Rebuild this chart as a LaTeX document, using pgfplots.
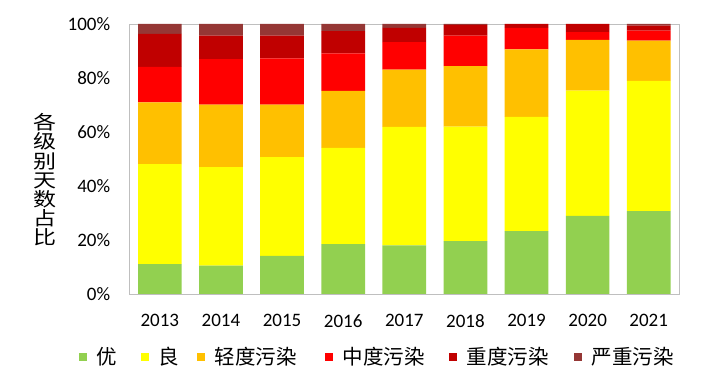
\documentclass[border=0pt]{standalone}
\usepackage{pgfplots}
\pgfplotsset{compat=1.18}
\usepackage{fontspec}
\setmainfont{Carlito}
\newfontfamily\cjk{Noto Sans CJK SC}
\definecolor{cgreen}{HTML}{92D050}
\definecolor{cyellow}{HTML}{FFFF00}
\definecolor{corange}{HTML}{FFC000}
\definecolor{cred}{HTML}{FF0000}
\definecolor{cdred}{HTML}{C00000}
\definecolor{cmaroon}{HTML}{953735}
\begin{document}
\begin{tikzpicture}
\useasboundingbox (0,0) rectangle (702pt,380pt);
\node[font=\cjk\fontsize{23}{23}\selectfont, yscale=0.83, align=center, inner sep=0pt] at (45pt,200.3pt) {各\\级\\别\\天\\数\\占\\比};
\begin{axis}[
  at={(129.3pt,86pt)}, anchor=south west,
  scale only axis, width=550pt, height=270pt,
  ybar stacked, bar width=43.7pt,
  xmin=-0.5, xmax=8.5, ymin=0, ymax=100,
  xtick=data,
  xticklabels={2013,2014,2015,2016,2017,2018,2019,2020,2021},
  ytick={0,20,40,60,80,100},
  yticklabels={0\%,20\%,40\%,60\%,80\%,100\%},
  major tick length=0pt,
  axis line style={draw=black!25},
  tick label style={font=\fontsize{19}{19}\selectfont, inner sep=0pt},
  xticklabel style={anchor=north, yshift=-20pt},
  yticklabel style={anchor=east, xshift=-19pt},
  legend style={at={(-0.0915,-0.2333)}, anchor=west, draw=none, fill=none,
    legend columns=6, inner sep=0pt,
    font=\cjk\fontsize{20.5}{20.5}\selectfont,
    nodes={inner sep=0pt, anchor=west}},
  legend image code/.code={\fill[#1,draw=none] (0pt,-4pt) rectangle (8pt,4pt); \path (17.7pt,0pt);},
]
\addplot[fill=cgreen, draw=none] coordinates {(0,11.1) (1,10.5) (2,14.1) (3,18.5) (4,18.0) (5,19.6) (6,23.3) (7,28.9) (8,30.7)};
\addplot[fill=cyellow, draw=none] coordinates {(0,37.0) (1,36.5) (2,36.6) (3,35.6) (4,43.9) (5,42.4) (6,42.3) (7,46.4) (8,48.2)};
\addplot[fill=corange, draw=none] coordinates {(0,22.9) (1,23.1) (2,19.4) (3,21.1) (4,21.2) (5,22.4) (6,25.0) (7,18.8) (8,14.9)};
\addplot[fill=cred, draw=none] coordinates {(0,13.1) (1,16.9) (2,17.2) (3,13.9) (4,10.2) (5,11.3) (6,8.0) (7,2.9) (8,3.7)};
\addplot[fill=cdred, draw=none] coordinates {(0,12.2) (1,8.7) (2,8.4) (3,8.3) (4,5.3) (5,4.0) (6,1.4) (7,3.0) (8,1.9)};
\addplot[fill=cmaroon, draw=none] coordinates {(0,3.7) (1,4.3) (2,4.3) (3,2.6) (4,1.4) (5,0.3) (6,0) (7,0) (8,0.6)};
\legend{\makebox[44.3pt][l]{优},\makebox[38.3pt][l]{良},\makebox[110.1pt][l]{轻度污染},\makebox[106.5pt][l]{中度污染},\makebox[107.3pt][l]{重度污染},严重污染}
\end{axis}
\end{tikzpicture}
\end{document}
